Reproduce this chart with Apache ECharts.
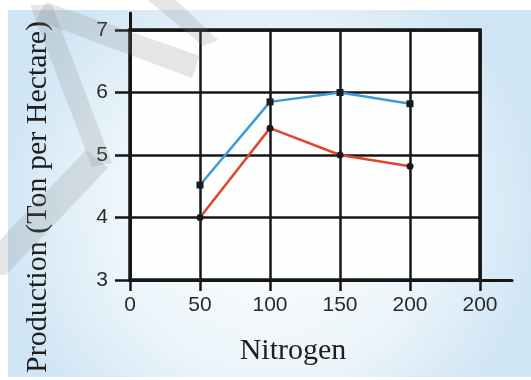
<!DOCTYPE html>
<html>
<head>
<meta charset="utf-8">
<script src="https://cdn.jsdelivr.net/npm/echarts@6/dist/echarts.min.js"></script>
<style>html,body{margin:0;padding:0;background:#fff;}#c{width:531px;height:380px;}</style>
</head>
<body>
<div id="c"></div>
<script>
// Data
const nitrogen = [50, 100, 150, 200];
const seriesBlue = [4.52, 5.85, 6.0, 5.82];
const seriesRed = [4.0, 5.43, 5.0, 4.82];
const xTickLabels = ['0', '50', '100', '150', '200', '200'];
const yTickValues = [3, 4, 5, 6, 7];
const xAxisTitle = 'Nitrogen';
const yAxisTitle = 'Production (Ton per Hectare)';

const chart = echarts.init(document.getElementById('c'), null, {renderer: 'canvas'});
const black = '#161616';
const wm = 'rgba(130,130,130,0.2)';

chart.setOption({
  animation: false,
  backgroundColor: '#ffffff',
  graphic: [
    {type: 'rect', z: -20, shape: {x: 8, y: 10, width: 523, height: 367},
     style: {fill: new echarts.graphic.RadialGradient(0.5, 0.55, 0.75, [
       {offset: 0, color: '#fbfdfe'}, {offset: 0.55, color: '#eef6fb'}, {offset: 1, color: '#cfe5f4'}])}},
    {type: 'text', z: 50, x: 38, y: 197, rotation: Math.PI / 2,
     style: {text: yAxisTitle, font: '30px "Liberation Serif"', fill: '#1e1e1e', textAlign: 'center', textVerticalAlign: 'middle'}},
    {type: 'text', z: 50, x: 293, y: 351,
     style: {text: xAxisTitle, font: '30px "Liberation Serif"', fill: '#1e1e1e', textAlign: 'center', textVerticalAlign: 'middle'}},
    {type: 'polygon', z: 60, shape: {points: [[30, 5], [52, 5], [112, 163], [92, 167]]}, style: {fill: wm}},
    {type: 'polygon', z: 60, shape: {points: [[86, 150], [108, 168], [6, 275], [0, 275], [0, 240]]}, style: {fill: wm}},
    {type: 'polygon', z: 60, shape: {points: [[46, 2], [200, 56], [192, 78], [36, 20]]}, style: {fill: wm}},
    {type: 'polygon', z: 60, shape: {points: [[148, 0], [176, 0], [218, 40], [203, 46]]}, style: {fill: wm}}
  ],
  grid: [
    {left: 130, right: 51, top: 30, bottom: 100, show: true, backgroundColor: '#fdfefe', borderColor: black, borderWidth: 3.5},
    {left: 130, right: 19, top: 13, bottom: 100, show: false}
  ],
  xAxis: [
    {type: 'value', gridIndex: 0, min: 0, max: 250, interval: 50,
     axisLine: {show: true, lineStyle: {color: black, width: 3}},
     axisTick: {show: true, length: 11, lineStyle: {color: black, width: 2.5}},
     splitLine: {show: true, lineStyle: {color: black, width: 2.5}},
     axisLabel: {margin: 15, color: '#2a2a2a', fontFamily: 'Liberation Sans', fontSize: 21,
       formatter: v => xTickLabels[Math.round(v / 50)]}},
    {type: 'value', gridIndex: 1, min: 0, max: 1, axisLine: {show: true, onZero: false, lineStyle: {color: black, width: 3}},
     axisTick: {show: false}, axisLabel: {show: false}, splitLine: {show: false}}
  ],
  yAxis: [
    {type: 'value', gridIndex: 0, min: 3, max: 7, interval: 1,
     axisLine: {show: true, lineStyle: {color: black, width: 3}},
     axisTick: {show: true, length: 15, lineStyle: {color: black, width: 2.5}},
     splitLine: {show: true, lineStyle: {color: black, width: 2.5}},
     axisLabel: {margin: 22, color: '#2a2a2a', fontFamily: 'Liberation Sans', fontSize: 21,
       formatter: v => (yTickValues.indexOf(v) >= 0 ? String(v) : '')}},
    {type: 'value', gridIndex: 1, min: 0, max: 1, axisLine: {show: true, onZero: false, lineStyle: {color: black, width: 3}},
     axisTick: {show: false}, axisLabel: {show: false}, splitLine: {show: false}}
  ],
  series: [
    {type: 'line', xAxisIndex: 0, yAxisIndex: 0, data: nitrogen.map((x, i) => [x, seriesBlue[i]]),
     symbol: 'rect', symbolSize: 7, itemStyle: {color: '#1a1a1a'},
     lineStyle: {color: '#3e9ad6', width: 2.5}, z: 5},
    {type: 'line', xAxisIndex: 0, yAxisIndex: 0, data: nitrogen.map((x, i) => [x, seriesRed[i]]),
     symbol: 'circle', symbolSize: 7, itemStyle: {color: '#1a1a1a'},
     lineStyle: {color: '#e2452c', width: 2.5}, z: 5}
  ]
});
</script>
</body>
</html>
